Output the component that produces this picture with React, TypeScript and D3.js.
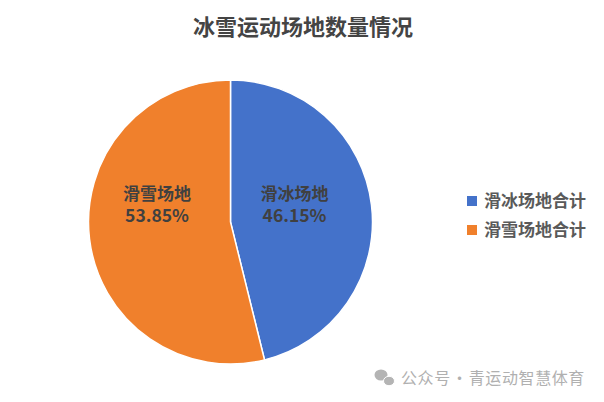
import React from "react";
import * as d3 from "d3";

const categories = ["滑冰场地", "滑雪场地"];
const legendLabels = ["滑冰场地合计", "滑雪场地合计"];
const values = [46.15, 53.85];
const colors = ["#4472ca", "#f0802c"];
const titleText = "冰雪运动场地数量情况";
const watermark = "公众号 · 青运动智慧体育";

const CJK = '"Noto Sans CJK SC", "Noto Sans", sans-serif';

export default function App() {
  const cx = 230.5, cy = 222, r = 142;
  const pie = d3.pie<number>().sort(null).value((d) => d);
  const arcs = pie(values);
  const arc = d3.arc<d3.PieArcDatum<number>>().innerRadius(0).outerRadius(r);
  const labelPos = [[294.5, 200], [157, 200]];
  return (
    <svg width={604} height={402} style={{ position: "absolute", left: 0, top: 0, background: "#fff" }}>
      <text x={303} y={35} textAnchor="middle" fontFamily={CJK} fontSize={22} fontWeight={700} fill="#444">{titleText}</text>
      <g transform={`translate(${cx},${cy})`}>
        {arcs.map((a, i) => (
          <path key={i} d={arc(a) ?? ""} fill={colors[i]} stroke="#fff" strokeWidth={1.5} />
        ))}
      </g>
      {arcs.map((a, i) => (
        <g key={i} fontFamily={CJK} fontWeight={700} fill="#404040" textAnchor="middle">
          <text x={labelPos[i][0]} y={labelPos[i][1]} fontSize={17}>{categories[i]}</text>
          <text x={labelPos[i][0]} y={labelPos[i][1] + 22} fontSize={17.5}>{d3.format(".2f")(values[i])}%</text>
        </g>
      ))}
      {legendLabels.map((t, i) => (
        <g key={i}>
          <rect x={467} y={196 + i * 29} width={10} height={10} fill={colors[i]} />
          <text x={484} y={207 + i * 29} fontFamily={CJK} fontSize={17} fontWeight={700} fill="#5a5a5a">{t}</text>
        </g>
      ))}
      <g fill="#b4b4b4">
        <ellipse cx={381} cy={375} rx={6.5} ry={5.5} />
        <ellipse cx={389} cy={381} rx={5.5} ry={4.7} stroke="#fff" strokeWidth={1} />
      </g>
      <text x={401} y={384} fontFamily={CJK} fontSize={16} letterSpacing={0.6} wordSpacing={-3.5} fill="#b0b0b0">{watermark}</text>
    </svg>
  );
}
